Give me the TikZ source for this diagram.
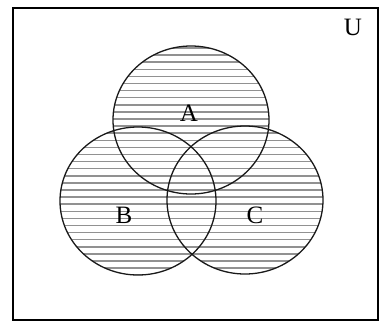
\documentclass[tikz,border=0pt]{standalone}
\usepackage{fontspec}
\setmainfont{Liberation Serif}
\usetikzlibrary{positioning}
\definecolor{hatchgray}{RGB}{145,145,145}
\tikzset{
    setline/.style={line width=1.3pt, black!90},
    frameline/.style={line width=1.5pt, black},
    hatchline/.style={line width=1.5pt, hatchgray},
    setlabel/.style={font=\fontsize{25}{25}\selectfont, inner sep=0pt},
}

\begin{document}
\begin{tikzpicture}[x=1pt, y=-1pt]
    \useasboundingbox (0,0) rectangle (384,322);

    % Centres of the sets
    \coordinate (cA) at (191,120);
    \coordinate (cB) at (138,201);
    \coordinate (cC) at (245,200);

    % Hatching of the union
    \begin{scope}
        \clip (cA) ellipse [x radius=78, y radius=74]
              (cB) ellipse [x radius=78, y radius=74]
              (cC) ellipse [x radius=78, y radius=74];
        \foreach \y in {48,55.1,...,277}
            \draw[hatchline] (50,\y) -- (330,\y);
    \end{scope}

    % Sets
    \draw[setline] (cA) ellipse [x radius=78, y radius=74];
    \draw[setline] (cB) ellipse [x radius=78, y radius=74];
    \draw[setline] (cC) ellipse [x radius=78, y radius=74];

    % Universal set
    \draw[frameline] (13,8) rectangle (378,320);

    % Labels
    \node[setlabel] (U) at (353,27) {U};
    \node[setlabel] (A) at (189,113) {A};
    \node[setlabel] (B) at (124,215) {B};
    \node[setlabel] (C) at (255,215) {C};
\end{tikzpicture}
\end{document}
